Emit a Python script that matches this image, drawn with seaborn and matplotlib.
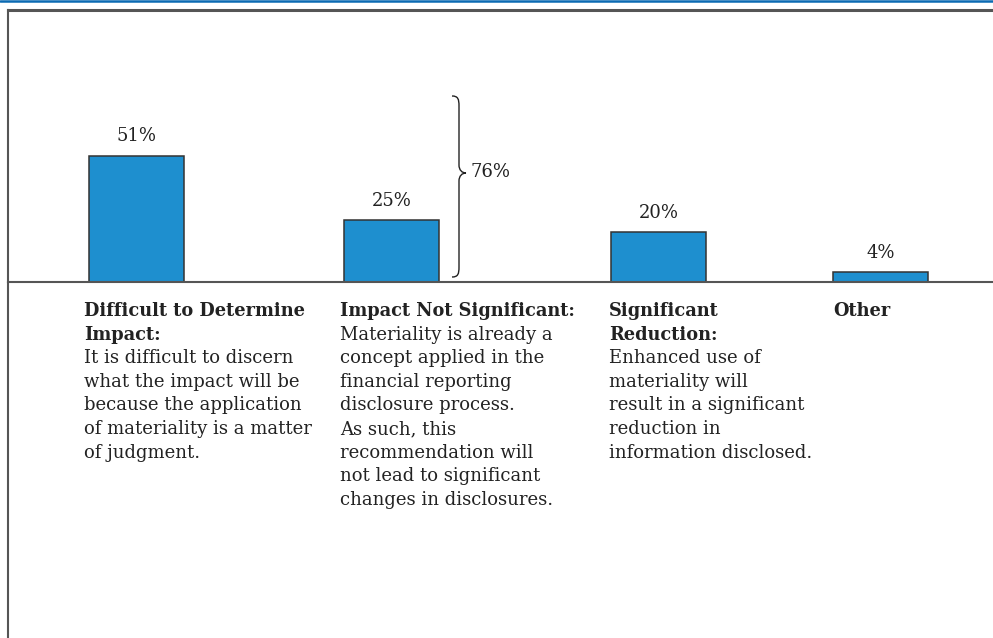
import numpy as np
import seaborn as sns
import matplotlib.pyplot as plt
from matplotlib.lines import Line2D
from matplotlib.path import Path
from matplotlib.patches import PathPatch

# ---- data ----
categories = ["Difficult to Determine Impact", "Impact Not Significant", "Significant Reduction", "Other"]
values = [51, 25, 20, 4]
headings = [
    ["Difficult to Determine", "Impact:"],
    ["Impact Not Significant:"],
    ["Significant", "Reduction:"],
    ["Other"],
]
bodies = [
    ["It is difficult to discern", "what the impact will be", "because the application",
     "of materiality is a matter", "of judgment."],
    ["Materiality is already a", "concept applied in the", "financial reporting",
     "disclosure process.", "As such, this", "recommendation will",
     "not lead to significant", "changes in disclosures."],
    ["Enhanced use of", "materiality will", "result in a significant",
     "reduction in", "information disclosed."],
    [],
]
bracket_total = values[0] + values[1]

# ---- layout (pixels of a 993x638 canvas) ----
W, H = 993, 638
bar_centers = [136.5, 391.5, 658.5, 880.5]
bar_px_width = 95
text_x = [84, 340, 609, 833]
baseline_px = 282
top_px = 10
px_per_pct = 2.48
line_step = 23.6
first_line_y = 311

bar_color = "#1e8fcf"
edge_color = "#333333"
frame_color = "#555555"
font_size = 13
head_size = 12.8

sns.set_theme(style="white")
plt.rcParams["font.family"] = ["DejaVu Serif"]
plt.rcParams["text.color"] = "#222222"

fig = plt.figure(figsize=(W / 100, H / 100), dpi=100)
fig.patch.set_facecolor("white")


def fx(x):
    return x / W


def fy(y):
    return 1 - y / H


ax = fig.add_axes([fx(8), fy(baseline_px), 1 - fx(8), (baseline_px - top_px) / H])

min_gap = np.min(np.diff(sorted(bar_centers)))
sns.barplot(x=bar_centers, y=values, native_scale=True, width=bar_px_width / min_gap,
            color=bar_color, saturation=1, edgecolor=edge_color, linewidth=1.1,
            errorbar=None, ax=ax)
ax.set_xlim(8, W)
ax.set_ylim(0, (baseline_px - top_px) / px_per_pct)
ax.set_xticks([])
ax.set_yticks([])
ax.set_xlabel("")
ax.set_ylabel("")
ax.spines["right"].set_visible(False)
for side, lw in [("top", 2.2), ("left", 1.5), ("bottom", 1.5)]:
    ax.spines[side].set_color(frame_color)
    ax.spines[side].set_linewidth(lw)

ax.bar_label(ax.containers[0], labels=[f"{v}%" for v in values], padding=7.5,
             fontsize=font_size)

# frame pieces outside the axes
fig.add_artist(Line2D([fx(8), fx(8)], [fy(baseline_px), 0], color=frame_color, lw=1.5))
fig.add_artist(Line2D([0, 1], [fy(0.8), fy(0.8)], color="#0b6ab2", lw=1.8))

# curly brace around the first two bars
bx, top_b, bot_b, mid_b = 459, 96, 277, 173
verts = [
    (452, top_b), (458, top_b), (bx, top_b + 3), (bx, top_b + 10),
    (bx, mid_b - 8),
    (bx, mid_b - 3), (462, mid_b), (466, mid_b),
    (462, mid_b), (bx, mid_b + 3), (bx, mid_b + 8),
    (bx, bot_b - 10),
    (bx, bot_b - 3), (458, bot_b), (452, bot_b),
]
codes = [Path.MOVETO, Path.CURVE4, Path.CURVE4, Path.CURVE4, Path.LINETO,
         Path.CURVE4, Path.CURVE4, Path.CURVE4,
         Path.CURVE4, Path.CURVE4, Path.CURVE4,
         Path.LINETO, Path.CURVE4, Path.CURVE4, Path.CURVE4]
brace = Path([(fx(x), fy(y)) for x, y in verts], codes)
fig.add_artist(PathPatch(brace, transform=fig.transFigure, fill=False,
                         edgecolor="#222222", lw=1.0))
fig.text(fx(470), fy(172), f"{bracket_total}%", fontsize=font_size, va="center", ha="left")

# category descriptions under the baseline
for x0, head, body in zip(text_x, headings, bodies):
    for i, line in enumerate(head + body):
        is_head = i < len(head)
        fig.text(fx(x0), fy(first_line_y + i * line_step), line,
                 fontsize=head_size if is_head else font_size,
                 va="center", ha="left", fontweight="bold" if is_head else "normal")

fig.savefig("out.png", dpi=100)
